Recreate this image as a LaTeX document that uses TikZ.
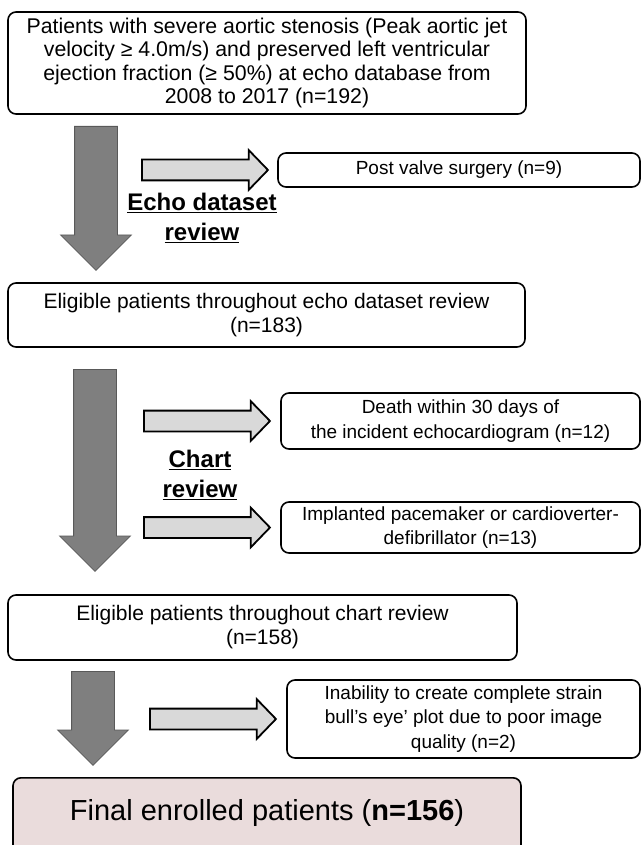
\documentclass[tikz,border=0pt]{standalone}
\usepackage{fontspec}
\setmainfont{Liberation Sans}
\usetikzlibrary{shapes.arrows}

\definecolor{biggray}{RGB}{127,127,127}
\definecolor{bigedge}{RGB}{89,89,89}
\definecolor{sidegray}{RGB}{217,217,217}
\definecolor{finalpink}{RGB}{234,220,220}

\begin{document}
\begin{tikzpicture}[x=1pt, y=1pt,
  flowbox/.style={rectangle, rounded corners=8pt, draw, line width=1.6pt, inner sep=0pt, align=center},
  exclbox/.style={flowbox, font=\fontsize{19}{24.5}\selectfont},
  downarrow/.style={single arrow, draw=bigedge, line width=0.8pt, fill=biggray, inner xsep=0pt, inner ysep=21pt, single arrow head extend=14pt, single arrow tip angle=90, rotate=-90, anchor=tail},
  rightarrow/.style={single arrow, draw, line width=1.8pt, fill=sidegray, inner xsep=0pt, inner ysep=9.5pt, single arrow head extend=9.5pt, single arrow tip angle=92, minimum height=126pt, anchor=tip},
  reviewlabel/.style={align=center, font=\fontsize{24}{30}\selectfont\bfseries}]

\useasboundingbox (0,0) rectangle (641,-845);
\clip (0,0) rectangle (641,-845);

%% ECHO DATASET REVIEW
% Cohorte inicial
\node[flowbox, minimum width=518pt, minimum height=102pt, font=\fontsize{21.3}{23.5}\selectfont] at (267,-63) (Cohort)
{Patients with severe aortic stenosis (Peak aortic jet\\
velocity ≥ 4.0m/s) and preserved left ventricular\\
ejection fraction (≥ 50\%) at echo database from\\
2008 to 2017 (n=192)};

% Exclusion
\node[exclbox, minimum width=362pt, minimum height=34pt] at (459,-170) (Surgery)
{Post valve surgery (n=9)};

% Flechas
\node[downarrow, minimum height=144pt] at (96,-126) (Down1) {};
\node[rightarrow] at ([xshift=-8pt]Surgery.west) (Right1) {};

\node[reviewlabel] at (202,-218) (EchoLabel)
{\underline{Echo dataset}\\\underline{review}};

%% CHART REVIEW
\node[flowbox, minimum width=517pt, minimum height=64pt, font=\fontsize{21}{24}\selectfont] at (266.5,-315) (Eligible1)
{Eligible patients throughout echo dataset review\\(n=183)};

% Exclusiones
\node[exclbox, minimum width=359pt, minimum height=56pt] at (460.5,-421) (Death)
{Death within 30 days of\\the incident echocardiogram (n=12)};
\node[exclbox, minimum width=359pt, minimum height=51pt] at (460.5,-527.5) (Device)
{Implanted pacemaker or cardioverter-\\defibrillator (n=13)};

% Flechas
\node[downarrow, minimum height=202pt] at (95,-369) (Down2) {};
\node[rightarrow] at ([xshift=-9pt]Death.west) (Right2) {};
\node[rightarrow] at ([xshift=-9pt]Device.west) (Right3) {};

\node[reviewlabel] at (200,-475) (ChartLabel)
{\underline{Chart}\\\underline{review}};

%% STRAIN
\node[flowbox, minimum width=509pt, minimum height=65pt, font=\fontsize{21}{24}\selectfont] at (262.5,-627.5) (Eligible2)
{Eligible patients throughout chart review\\(n=158)};

\node[exclbox, minimum width=353pt, minimum height=78pt] at (463.5,-719) (Strain)
{Inability to create complete strain\\bull’s eye’ plot due to poor image\\quality (n=2)};

\node[downarrow, minimum height=94pt] at (93,-671) (Down3) {};
\node[rightarrow] at ([xshift=-9pt]Strain.west) (Right4) {};

% Final
\node[flowbox, fill=finalpink, minimum width=508pt, text height=43pt, text depth=32pt, anchor=north, font=\fontsize{29}{34}\selectfont] at (267,-777) (Final)
{Final enrolled patients (\textbf{n=156})};

\end{tikzpicture}
\end{document}
